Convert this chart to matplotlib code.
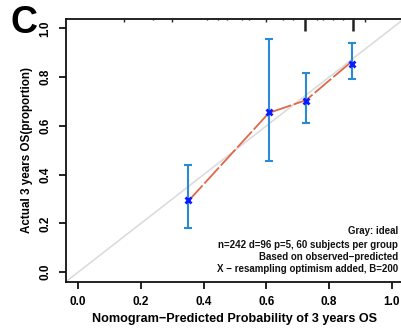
import matplotlib
matplotlib.use("Agg")
import matplotlib.pyplot as plt
import numpy as np

# ---- data ----
pred = [0.350, 0.608, 0.726, 0.873]          # nomogram-predicted probability (group means)
observed = [0.296, 0.655, 0.703, 0.852]      # bias-corrected observed (blue X)
lower = [0.180, 0.454, 0.612, 0.794]         # CI lower
upper = [0.440, 0.957, 0.817, 0.941]         # CI upper
apparent = [0.290, 0.653, 0.705, 0.865]      # apparent line (red)
rug_x = [0.147, 0.240, 0.300, 0.410, 0.447, 0.474, 0.523, 0.545, 0.599,
         0.654, 0.684, 0.723, 0.761, 0.780, 0.812, 0.844, 0.877, 0.914]
rug_freq = [2, 1, 2, 1, 1, 1, 1, 1, 2, 1, 1, 8, 1, 1, 1, 1, 8, 2]
xticks = [0.0, 0.2, 0.4, 0.6, 0.8, 1.0]
yticks = [0.0, 0.2, 0.4, 0.6, 0.8, 1.0]
info_lines = ["Gray: ideal",
              "n=242 d=96 p=5, 60 subjects per group",
              "Based on observed\u2212predicted",
              "X \u2212 resampling optimism added, B=200"]

plt.rcParams['font.family'] = ['Liberation Sans', 'DejaVu Sans']
plt.rcParams['font.weight'] = 'bold'

W, H = 402, 331
fig = plt.figure(figsize=(W / 100, H / 100), dpi=100)
ax = fig.add_axes([65.5 / W, 1 - 282 / H, 339 / W, 263.5 / H])

lo, hi = -0.04, 1.04
ax.set_xlim(lo, hi)
ax.set_ylim(lo, hi)

# ideal line
ax.plot([lo, hi], [lo, hi], color='#dcdcdc', lw=1.2, zorder=1)

# apparent line
ax.plot(pred, apparent, color='#e0684a', lw=1.3, dashes=(12, 1.5), zorder=2)

# error bars
yerr = [np.array(observed) - np.array(lower), np.array(upper) - np.array(observed)]
ax.errorbar(pred, observed, yerr=yerr, fmt='none', ecolor='#2a8ad4',
            elinewidth=1.5, capsize=3.0, capthick=1.5, zorder=3)
ax.plot(pred, observed, linestyle='none', marker='x', color='#0a1cff',
        markersize=5, markeredgewidth=2.0, zorder=4)

# rug at top
px_per_unit = 263.5 / (hi - lo)
for xv, f in zip(rug_x, rug_freq):
    h = f * 1.5 / px_per_unit
    ax.vlines(xv, hi - h, hi, color='#222222', lw=1.8 if f >= 5 else 1.0, zorder=5)

# spines
for s in ['left', 'bottom', 'top']:
    ax.spines[s].set_linewidth(1.3)
    ax.spines[s].set_color('#111111')
ax.spines['right'].set_visible(False)

ax.set_xticks(xticks)
ax.set_yticks(yticks)
ax.set_xticklabels([f"{v:.1f}" for v in xticks], fontsize=8.5, fontweight='bold')
ax.set_yticklabels([f"{v:.1f}" for v in yticks], fontsize=8.5, fontweight='bold',
                   rotation=90, va='center')
ax.tick_params(axis='x', length=5, width=1.3, pad=5, color='#111111')
ax.tick_params(axis='y', length=5, width=1.3, pad=5, color='#111111')

ax.set_xlabel("Nomogram\u2212Predicted Probability of 3 years OS", fontsize=9.1,
              fontweight='bold', labelpad=4)
ax.set_ylabel("Actual 3 years OS(proportion)", fontsize=8.4, fontweight='bold',
              labelpad=5)

# info text
ys = [231, 245, 257, 269]
for t, yp in zip(info_lines, ys):
    fig.text(398 / W, 1 - yp / H, t, ha='right', va='center', fontsize=7.0,
             fontweight='bold', color='#111111')

fig.text(11 / W, 1 - 33 / H, "C", fontsize=27, fontweight='bold', va='baseline', ha='left')

fig.savefig("out.png", dpi=100)
